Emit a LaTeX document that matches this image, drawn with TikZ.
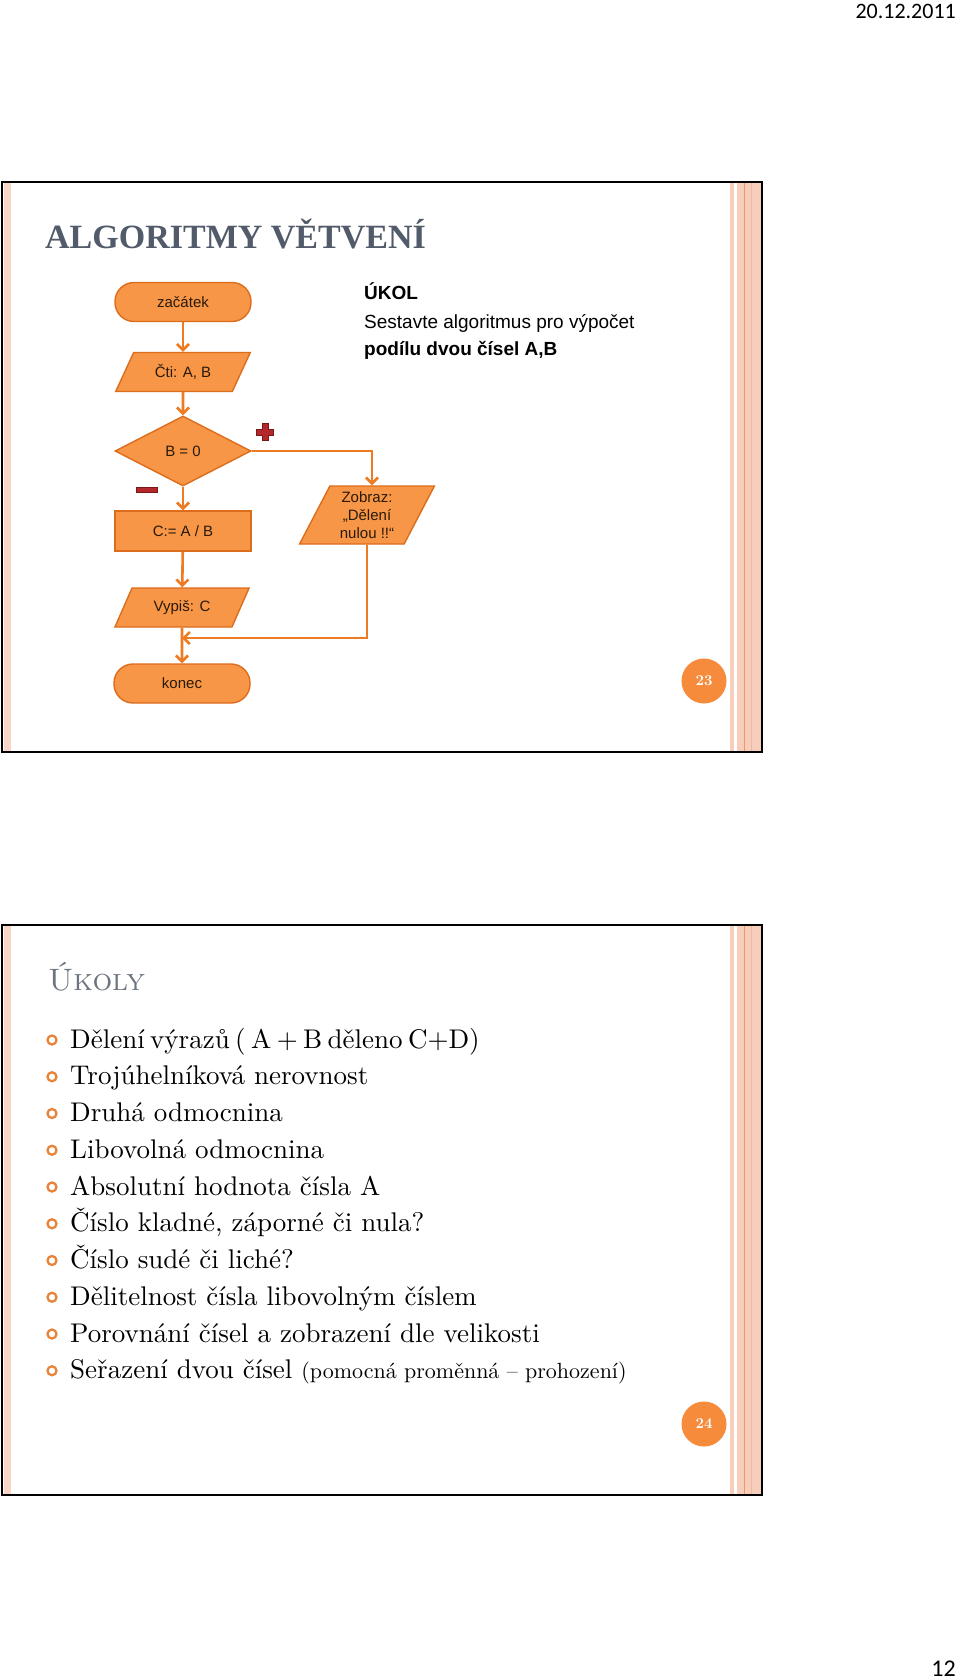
\documentclass[tikz,border=0pt]{standalone}
\usepackage{fontspec}
\newfontfamily\arialf{Liberation Sans}
\newfontfamily\timesf{Liberation Serif}
\newfontfamily\calibrif{Carlito}
\newfontfamily\bodyf{lmroman10-regular.otf}
\usetikzlibrary{shapes.geometric,arrows.meta}
\definecolor{nodefill}{HTML}{F79646}
\definecolor{nodedraw}{HTML}{DC6D1C}
\definecolor{arrowc}{HTML}{EE7A22}
\definecolor{nodetext}{HTML}{2A1A0A}
\definecolor{titlec}{HTML}{525B6A}
\definecolor{pinkA}{HTML}{F9D6C8}
\definecolor{pinkB}{HTML}{F7CDBB}
\definecolor{stripeline}{HTML}{EE9A62}
\definecolor{stripeline2}{HTML}{F2B79A}
\definecolor{bulletc}{HTML}{E8843A}
\definecolor{circc}{HTML}{F68B3C}
\definecolor{signc}{HTML}{B3282A}
\definecolor{signd}{HTML}{7A1818}
\tikzset{
  fc/.style={fill=nodefill, draw=nodedraw, line width=1.4pt, text=nodetext,
    font=\arialf\fontsize{15}{18}\selectfont, inner sep=2pt},
  term/.style={fc, rectangle, rounded corners=19pt, minimum width=136pt, minimum height=39pt},
  procbox/.style={fc, rectangle, minimum width=136pt, minimum height=40pt},
  para/.style={fc, trapezium, trapezium left angle=60, trapezium right angle=120,
    trapezium stretches=true, minimum width=135pt, minimum height=39pt},
  decide/.style={fc, diamond, minimum width=136pt, minimum height=70pt},
  arr/.style={draw=arrowc, line width=2.6pt, -{Straight Barb[length=6pt,width=12pt]}},
  pagenum/.style={circle, fill=circc, minimum size=45pt, inner sep=0pt, text=white,
    font=\bfseries\fontsize{15}{18}\selectfont},
  bul/.style={circle, draw=bulletc, line width=2.3pt, minimum size=9pt, inner sep=0pt},
  item/.style={anchor=base west, inner sep=0pt, font=\bodyf\fontsize{27}{32}\selectfont},
}
\begin{document}
\begin{tikzpicture}[x=1pt,y=-1pt]
\useasboundingbox (0,0) rectangle (960,1680);
\fill[white] (0,0) rectangle (960,1680);

% header / footer
\node[anchor=base east, inner sep=0pt, font=\calibrif\fontsize{22}{26}\selectfont] (date) at (956,19) {20.12.2011};
\node[anchor=base east, inner sep=0pt, font=\calibrif\fontsize{24}{28}\selectfont] (pg) at (956,1676) {12};

% slide frames and stripes
\foreach \t/\b in {182/752,925/1495}{
  \fill[pinkA] (4,\t) rectangle (11,\b);
  \fill[pinkB] (730,\t) rectangle (734,\b);
  \fill[pinkB] (737,\t) rectangle (761,\b);
  \draw[stripeline, line width=1.6pt] (744.5,\t) -- (744.5,\b);
  \draw[stripeline2, line width=1pt] (751.5,\t) -- (751.5,\b);
  \draw[black, line width=2.2pt] (2,\t) rectangle (762,\b);
}

% ---------- slide 1 ----------
\node[anchor=base west, inner sep=0pt, text=titlec, font=\timesf\bfseries\fontsize{34}{40}\selectfont] (title1) at (45,248) {ALGORITMY VĚTVENÍ};

\node[anchor=base west, inner sep=0pt, font=\arialf\bfseries\fontsize{19}{22}\selectfont] (ukol) at (364,299) {ÚKOL};
\node[anchor=base west, inner sep=0pt, font=\arialf\fontsize{19}{22}\selectfont] (task1) at (364,328) {Sestavte algoritmus pro výpočet};
\node[anchor=base west, inner sep=0pt, font=\arialf\bfseries\fontsize{19}{22}\selectfont] (task2) at (364,355) {podílu dvou čísel A,B};

\node[term] (start) at (183,302) {začátek};
\node[para] (read) at (183,372) {Čti: A, B};
\node[decide] (dec) at (183,451) {B = 0};
\node[procbox] (calc) at (183,531) {C:= A / B};
\node[para, trapezium left angle=65, trapezium right angle=115, minimum height=58pt, align=center] (zob) at (367,515) {Zobraz:\\„Dělení\\nulou !!“};
\node[para] (out) at (182,607.5) {Vypiš: C};
\node[term] (end) at (182,683.5) {konec};
\coordinate (join) at (182,638);

\draw[arr] (start) -- (read);
\draw[arr] (read) -- (dec);
\draw[arr] (dec) -- (calc);
\draw[arr] (calc) -- (out);
\draw[arr] (out) -- (end);
\draw[arr] (dec.east) -| ([xshift=5pt]zob.north);
\draw[arr] (zob.south) |- (join);

% plus / minus signs
\filldraw[fill=signc, draw=signd, line width=0.6pt]
  (262,423.5) -- (268,423.5) -- (268,429) -- (273.5,429) -- (273.5,435) -- (268,435)
  -- (268,440.5) -- (262,440.5) -- (262,435) -- (256.5,435) -- (256.5,429) -- (262,429) -- cycle;
\filldraw[fill=signc, draw=signd, line width=0.6pt] (136.5,487) rectangle (157.5,492.5);

\node[pagenum] (p23) at (704,681) {23};

% ---------- slide 2 ----------
\node[anchor=base west, inner sep=0pt, text=titlec!85!white, font=\fontsize{31}{36}\selectfont] (title2) at (48,990) {\textsc{Úkoly}};

\foreach \i/\txt in {
  0/{{\spaceskip=0.2em\relax Dělení výrazů ( A + B děleno C+D)}},
  1/{Trojúhelníková nerovnost},
  2/{Druhá odmocnina},
  3/{Libovolná odmocnina},
  4/{Absolutní hodnota čísla A},
  5/{Číslo kladné, záporné či nula?},
  6/{Číslo sudé či liché?},
  7/{Dělitelnost čísla libovolným číslem},
  8/{Porovnání čísel a zobrazení dle velikosti},
  9/{Seřazení dvou čísel {\fontsize{22}{26}\selectfont(pomocná proměnná – prohození)}}}{
  \node[bul] (b\i) at (52,1048+\i*36.75-8) {};
  \node[item] (t\i) at (70,1048+\i*36.75) {\txt};
}

\node[pagenum] (p24) at (704,1424) {24};
\end{tikzpicture}
\end{document}
